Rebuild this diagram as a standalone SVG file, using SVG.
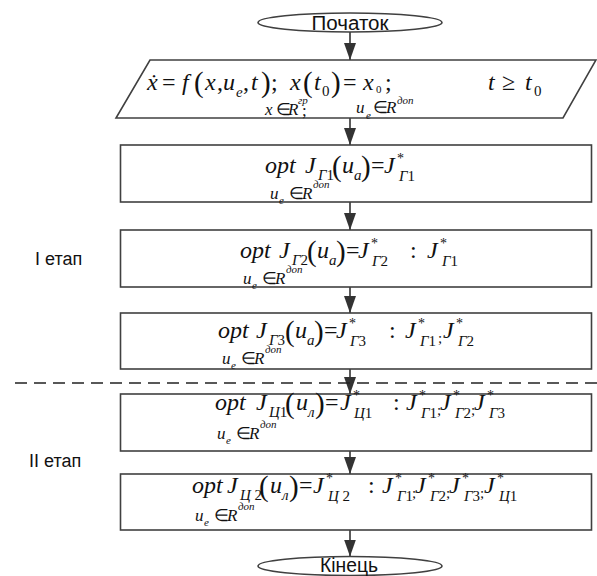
<svg xmlns="http://www.w3.org/2000/svg" width="597" height="576" viewBox="0 0 597 576">
<defs>
<marker id="ah" viewBox="0 0 17 12" refX="17" refY="6" markerWidth="17" markerHeight="12" markerUnits="userSpaceOnUse" orient="auto"><path d="M0,0 L17,6 L0,12 z" fill="#333"/></marker>
<style>
.sh{fill:#fff;stroke:#404040;stroke-width:1.6}
.cn{stroke:#333;stroke-width:1.6;fill:none;marker-end:url(#ah)}
.dash{stroke:#222;stroke-width:1.6;stroke-dasharray:12 7;fill:none}
.lb{font-family:"Liberation Sans",Arial,sans-serif;fill:#111}
.f{font-family:"Liberation Serif","Times New Roman",serif;fill:#111;font-style:italic}
.b{font-size:24px}
.p{font-size:29px;font-style:normal}
.s{font-size:15px}
.st{font-size:14px;font-style:normal}
.n{font-style:normal}
.t{font-size:17px}
.x{font-size:11px}
</style>
</defs>
<rect width="597" height="576" fill="#fff"/>
<g id="connectors">
<line class="cn" x1="350" y1="32" x2="350" y2="60"/>
<line class="cn" x1="350" y1="118" x2="350" y2="145"/>
<line class="cn" x1="350" y1="202" x2="350" y2="230"/>
<line class="cn" x1="350" y1="287" x2="350" y2="313"/>
<line class="cn" x1="350" y1="369" x2="350" y2="394"/>
<line class="cn" x1="350" y1="451" x2="350" y2="474"/>
<line class="cn" x1="350" y1="530" x2="350" y2="556.5"/>
</g>
<g id="divider"><line class="dash" x1="15" y1="383" x2="597" y2="383"/></g>
<g id="start">
<ellipse class="sh" cx="350" cy="22.5" rx="92" ry="9.5"/>
<text class="lb" x="350" y="30" font-size="20" text-anchor="middle" textLength="77" lengthAdjust="spacingAndGlyphs">Початок</text>
</g>
<g id="input">
<polygon class="sh" points="150,60 596,60 563,118 116,118"/>
<text class="f b">
<tspan x="147" y="90">ẋ</tspan>
<tspan x="162" y="90" class="n">=</tspan>
<tspan x="182" y="90">f</tspan>
<tspan x="194" y="92" class="p">(</tspan>
<tspan x="205" y="90">x</tspan>
<tspan x="217" y="90" class="n">,</tspan>
<tspan x="223" y="90">u</tspan>
<tspan x="236" y="97" class="s">e</tspan>
<tspan x="243" y="90" class="n">,</tspan>
<tspan x="251" y="90">t</tspan>
<tspan x="261" y="92" class="p">)</tspan>
<tspan x="271" y="90" class="n">;</tspan>
<tspan x="290" y="90">x</tspan>
<tspan x="303" y="92" class="p">(</tspan>
<tspan x="314" y="90">t</tspan>
<tspan x="322" y="96" class="s n">0</tspan>
<tspan x="331" y="92" class="p">)</tspan>
<tspan x="343" y="90" class="n">=</tspan>
<tspan x="363" y="90">x</tspan>
<tspan x="376" y="93" class="x n">0</tspan>
<tspan x="385" y="90" class="n">;</tspan>
<tspan x="488" y="90">t</tspan>
<tspan x="502" y="90" class="n">≥</tspan>
<tspan x="525" y="90">t</tspan>
<tspan x="534" y="96" class="s n">0</tspan>
</text>
<text class="f t">
<tspan x="265" y="115">x</tspan>
<tspan x="276" y="115" class="n">∈</tspan>
<tspan x="288" y="115">R</tspan>
<tspan x="298" y="104" class="x">гр</tspan>
<tspan x="302" y="116" class="n">;</tspan>
<tspan x="356" y="113">u</tspan>
<tspan x="366" y="119" class="x">e</tspan>
<tspan x="373" y="113" class="n">∈</tspan>
<tspan x="386" y="113">R</tspan>
<tspan x="397" y="104" class="x">доп</tspan>
</text>
</g>
<g id="g1">
<rect class="sh" x="120.5" y="145" width="471" height="57"/>
<text class="f b">
<tspan x="265" y="173">opt</tspan>
<tspan x="305" y="173">J</tspan>
<tspan x="318" y="180" class="s">Г<tspan class="n">1</tspan></tspan>
<tspan x="332" y="176" class="p">(</tspan>
<tspan x="342" y="173">u</tspan>
<tspan x="354" y="180" class="s">a</tspan>
<tspan x="361" y="176" class="p">)</tspan>
<tspan x="371" y="173" class="n">=</tspan>
<tspan x="384" y="173">J</tspan>
<tspan x="397" y="163" class="st">*</tspan>
<tspan x="399" y="181" class="s">Г<tspan class="n">1</tspan></tspan>
</text>
<text class="f t">
<tspan x="270" y="199">u</tspan>
<tspan x="279" y="204" class="x">e</tspan>
<tspan x="289" y="199" class="n">∈</tspan>
<tspan x="302" y="199">R</tspan>
<tspan x="313" y="188" class="x">доп</tspan>
</text>
</g>
<g id="g2">
<rect class="sh" x="120.5" y="230" width="471" height="57"/>
<text class="f b">
<tspan x="240" y="258">opt</tspan>
<tspan x="279" y="258">J</tspan>
<tspan x="292" y="265" class="s">Г<tspan class="n">2</tspan></tspan>
<tspan x="307" y="261" class="p">(</tspan>
<tspan x="317" y="258">u</tspan>
<tspan x="329" y="265" class="s">a</tspan>
<tspan x="336" y="261" class="p">)</tspan>
<tspan x="346" y="258" class="n">=</tspan>
<tspan x="358" y="258">J</tspan>
<tspan x="371" y="248" class="st">*</tspan>
<tspan x="372" y="266" class="s">Г<tspan class="n">2</tspan></tspan>
<tspan x="410" y="258" class="n">:</tspan>
<tspan x="427" y="258">J</tspan>
<tspan x="440" y="248" class="st">*</tspan>
<tspan x="442" y="266" class="s">Г<tspan class="n">1</tspan></tspan>
</text>
<text class="f t">
<tspan x="243" y="284">u</tspan>
<tspan x="252" y="289" class="x">e</tspan>
<tspan x="262" y="284" class="n">∈</tspan>
<tspan x="275" y="284">R</tspan>
<tspan x="286" y="273" class="x">доп</tspan>
</text>
</g>
<g id="g3">
<rect class="sh" x="120.5" y="313" width="471" height="56"/>
<text class="f b">
<tspan x="218" y="338">opt</tspan>
<tspan x="256" y="338">J</tspan>
<tspan x="269" y="345" class="s">Г<tspan class="n">3</tspan></tspan>
<tspan x="285" y="341" class="p">(</tspan>
<tspan x="295" y="338">u</tspan>
<tspan x="307" y="345" class="s">a</tspan>
<tspan x="314" y="341" class="p">)</tspan>
<tspan x="324" y="338" class="n">=</tspan>
<tspan x="336" y="338">J</tspan>
<tspan x="349" y="328" class="st">*</tspan>
<tspan x="350" y="346" class="s">Г<tspan class="n">3</tspan></tspan>
<tspan x="389" y="338" class="n">:</tspan>
<tspan x="405" y="338">J</tspan>
<tspan x="418" y="328" class="st">*</tspan>
<tspan x="420" y="346" class="s">Г<tspan class="n">1</tspan></tspan>
<tspan x="438" y="343" class="s n">;</tspan>
<tspan x="443" y="338">J</tspan>
<tspan x="456" y="328" class="st">*</tspan>
<tspan x="458" y="346" class="s">Г<tspan class="n">2</tspan></tspan>
</text>
<text class="f t">
<tspan x="222" y="364">u</tspan>
<tspan x="231" y="369" class="x">e</tspan>
<tspan x="241" y="364" class="n">∈</tspan>
<tspan x="254" y="364">R</tspan>
<tspan x="265" y="353" class="x">доп</tspan>
</text>
</g>
<g id="c1">
<rect class="sh" x="120.5" y="394" width="471" height="57"/>
<text class="f b">
<tspan x="215" y="410">opt</tspan>
<tspan x="256" y="410">J</tspan>
<tspan x="269" y="417" class="s">Ц<tspan class="n">1</tspan></tspan>
<tspan x="285" y="413" class="p">(</tspan>
<tspan x="296" y="410">u</tspan>
<tspan x="308" y="417" class="s">л</tspan>
<tspan x="315" y="413" class="p">)</tspan>
<tspan x="325" y="410" class="n">=</tspan>
<tspan x="340" y="410">J</tspan>
<tspan x="353" y="400" class="st">*</tspan>
<tspan x="354" y="418" class="s">Ц<tspan class="n">1</tspan></tspan>
<tspan x="393" y="410" class="n">:</tspan>
<tspan x="406" y="410">J</tspan>
<tspan x="419" y="400" class="st">*</tspan>
<tspan x="421" y="418" class="s">Г<tspan class="n">1</tspan></tspan>
<tspan x="437" y="415" class="s n">;</tspan>
<tspan x="440" y="410">J</tspan>
<tspan x="453" y="400" class="st">*</tspan>
<tspan x="455" y="418" class="s">Г<tspan class="n">2</tspan></tspan>
<tspan x="471" y="415" class="s n">;</tspan>
<tspan x="474" y="410">J</tspan>
<tspan x="487" y="400" class="st">*</tspan>
<tspan x="489" y="418" class="s">Г<tspan class="n">3</tspan></tspan>
</text>
<text class="f t">
<tspan x="217" y="439">u</tspan>
<tspan x="226" y="444" class="x">e</tspan>
<tspan x="236" y="439" class="n">∈</tspan>
<tspan x="249" y="439">R</tspan>
<tspan x="260" y="428" class="x">доп</tspan>
</text>
</g>
<g id="c2">
<rect class="sh" x="120.5" y="474" width="471" height="56"/>
<text class="f b">
<tspan x="192" y="493">opt</tspan>
<tspan x="227" y="493">J</tspan>
<tspan x="240" y="500" class="s">Ц <tspan class="n">2</tspan></tspan>
<tspan x="259" y="496" class="p">(</tspan>
<tspan x="270" y="493">u</tspan>
<tspan x="282" y="500" class="s">л</tspan>
<tspan x="289" y="496" class="p">)</tspan>
<tspan x="299" y="493" class="n">=</tspan>
<tspan x="313" y="493">J</tspan>
<tspan x="326" y="483" class="st">*</tspan>
<tspan x="328" y="501" class="s">Ц <tspan class="n">2</tspan></tspan>
<tspan x="368" y="493" class="n">:</tspan>
<tspan x="382" y="493">J</tspan>
<tspan x="395" y="483" class="st">*</tspan>
<tspan x="397" y="501" class="s">Г<tspan class="n">1</tspan></tspan>
<tspan x="412" y="498" class="s n">;</tspan>
<tspan x="415" y="493">J</tspan>
<tspan x="428" y="483" class="st">*</tspan>
<tspan x="430" y="501" class="s">Г<tspan class="n">2</tspan></tspan>
<tspan x="446" y="498" class="s n">;</tspan>
<tspan x="449" y="493">J</tspan>
<tspan x="462" y="483" class="st">*</tspan>
<tspan x="464" y="501" class="s">Г<tspan class="n">3</tspan></tspan>
<tspan x="480" y="498" class="s n">;</tspan>
<tspan x="484" y="493">J</tspan>
<tspan x="497" y="483" class="st">*</tspan>
<tspan x="499" y="501" class="s">Ц<tspan class="n">1</tspan></tspan>
</text>
<text class="f t">
<tspan x="195" y="521">u</tspan>
<tspan x="204" y="526" class="x">e</tspan>
<tspan x="214" y="521" class="n">∈</tspan>
<tspan x="227" y="521">R</tspan>
<tspan x="238" y="510" class="x">доп</tspan>
</text>
</g>
<g id="end">
<ellipse class="sh" cx="350" cy="566" rx="92" ry="9.5"/>
<text class="lb" x="349" y="572" font-size="21" text-anchor="middle" textLength="58" lengthAdjust="spacingAndGlyphs">Кінець</text>
</g>
<g id="stage1"><text class="lb" x="35" y="265" font-size="18">I етап</text></g>
<g id="stage2"><text class="lb" x="29" y="467" font-size="18">II етап</text></g>
</svg>
